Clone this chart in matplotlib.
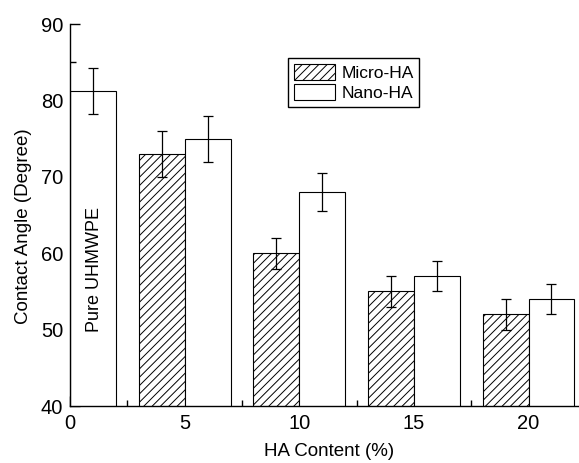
import matplotlib
matplotlib.use("Agg")
import matplotlib.pyplot as plt
import numpy as np

# data
ha_content = [5, 10, 15, 20]
micro_ha = [73, 60, 55, 52]
micro_err = [3, 2, 2, 2]
nano_ha = [75, 68, 57, 54]
nano_err = [3, 2.5, 2, 2]
pure_value = 81.2
pure_err = 3

plt.rcParams['font.family'] = ['Liberation Sans', 'DejaVu Sans']
plt.rcParams['hatch.linewidth'] = 0.7

fig = plt.figure(figsize=(5.79, 4.63), dpi=100)
ax = fig.add_axes([0.121, 0.123, 0.879, 0.825])

bar_w = 2
err_kw = dict(ecolor='black', elinewidth=0.9, capsize=3.5, capthick=0.9)
x = np.array(ha_content)

# pure UHMWPE bar sits between 0 and 2
ax.bar(0, pure_value, width=bar_w, align='edge', color='white', edgecolor='black',
       linewidth=0.8, zorder=2)
ax.errorbar(bar_w / 2, pure_value, yerr=pure_err, fmt='none', zorder=3, **err_kw)

ax.bar(x - bar_w, micro_ha, width=bar_w, align='edge', color='white', edgecolor='black',
       hatch='////', linewidth=0.8, label='Micro-HA', zorder=2)
ax.bar(x, nano_ha, width=bar_w, align='edge', color='white', edgecolor='black',
       linewidth=0.8, label='Nano-HA', zorder=2)
ax.errorbar(x - bar_w / 2, micro_ha, yerr=micro_err, fmt='none', zorder=3, **err_kw)
ax.errorbar(x + bar_w / 2, nano_ha, yerr=nano_err, fmt='none', zorder=3, **err_kw)

ax.text(1.05, 49.7, 'Pure UHMWPE', rotation=90, ha='center', va='bottom', fontsize=13)

ax.set_xlim(0, 22.2)
ax.set_ylim(40, 90)
ax.set_xticks([0, 5, 10, 15, 20])
ax.set_xticks([2.5, 7.5, 12.5, 17.5], minor=True)
ax.set_yticks([40, 50, 60, 70, 80, 90])
ax.set_yticks([45, 55, 65, 75, 85], minor=True)

ax.spines['top'].set_visible(False)
ax.spines['right'].set_visible(False)
for s in ['left', 'bottom']:
    ax.spines[s].set_linewidth(1.0)

ax.tick_params(which='major', direction='in', length=7, width=1.0, labelsize=14.5)
ax.tick_params(axis='x', which='major', pad=6)
ax.tick_params(axis='y', which='major', pad=5)
ax.tick_params(which='minor', direction='in', length=4, width=1.0)

ax.set_xlabel('HA Content (%)', fontsize=13.5)
ax.set_ylabel('Contact Angle (Degree)', fontsize=13.5)
ax.xaxis.set_label_coords(0.508, -0.097)
ax.yaxis.set_label_coords(-0.074, 0.471)
ax.xaxis.label.set_va('top')

leg = ax.legend(loc='upper left', bbox_to_anchor=(0.428, 0.91), fontsize=12.5,
                frameon=True, fancybox=False, edgecolor='black', framealpha=1,
                handlelength=2.4, handleheight=1.0, handletextpad=0.35,
                borderpad=0.33, labelspacing=0.2, borderaxespad=0)
leg.get_frame().set_linewidth(1.0)

plt.savefig('out.png', dpi=100)
